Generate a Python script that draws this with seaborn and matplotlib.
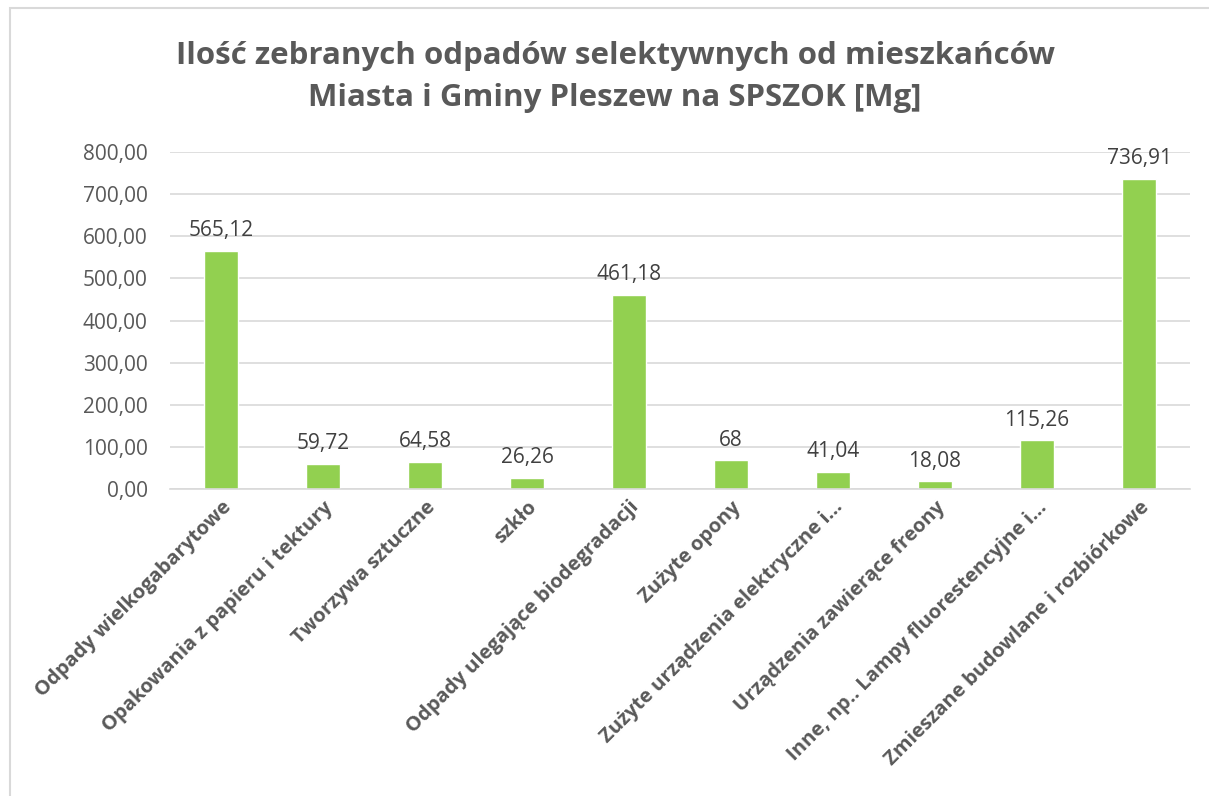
import matplotlib
matplotlib.use("Agg")
import matplotlib.pyplot as plt
import seaborn as sns
import pandas as pd
from matplotlib.patches import Rectangle

categories = [
    "Odpady wielkogabarytowe",
    "Opakowania z papieru i tektury",
    "Tworzywa sztuczne",
    "szkło",
    "Odpady ulegające biodegradacji",
    "Zużyte opony",
    "Zużyte urządzenia elektryczne i...",
    "Urządzenia zawierące freony",
    "Inne, np.. Lampy fluorestencyjne i...",
    "Zmieszane budowlane i rozbiórkowe",
]
values = [565.12, 59.72, 64.58, 26.26, 461.18, 68, 41.04, 18.08, 115.26, 736.91]
value_labels = ["565,12", "59,72", "64,58", "26,26", "461,18", "68", "41,04", "18,08", "115,26", "736,91"]
yticks = [0, 100, 200, 300, 400, 500, 600, 700, 800]
title = "Ilość zebranych odpadów selektywnych od mieszkańców\nMiasta i Gminy Pleszew na SPSZOK [Mg]"

sns.set_theme(style="white")
plt.rcParams['font.family'] = ['Open Sans', 'DejaVu Sans']

df = pd.DataFrame({"cat": categories, "val": values})

fig = plt.figure(figsize=(12.09, 7.96), dpi=100)
ax = fig.add_axes([170/1209, 1 - 489/796, 1020/1209, (489-152)/796])

sns.barplot(data=df, x="cat", y="val", color="#92D050", width=0.33, ax=ax, saturation=1)

ax.set_ylim(0, 800)
ax.set_xlim(-0.5, len(categories) - 0.5)
ax.set_yticks(yticks)
ax.set_yticklabels([f"{v:.2f}".replace(".", ",") for v in yticks], color="#595959", fontsize=15)
ax.tick_params(axis="y", length=0, pad=16)
ax.tick_params(axis="x", length=0, pad=6)
ax.set_xticks(range(len(categories)))
ax.set_xticklabels(categories, rotation=45, ha="right", rotation_mode="anchor",
                   color="#595959", fontsize=14.5, fontweight="bold")
ax.set_xlabel("")
ax.set_ylabel("")
ax.grid(axis="y", color="#D9D9D9", linewidth=1.2)
ax.set_axisbelow(True)
for s in ["top", "right", "left"]:
    ax.spines[s].set_visible(False)
ax.spines["bottom"].set_color("#D9D9D9")
ax.spines["bottom"].set_linewidth(1.2)

for i, (v, lab) in enumerate(zip(values, value_labels)):
    ax.annotate(lab, (i, v), xytext=(0, 7), textcoords="offset points",
                ha="center", va="bottom", fontsize=15, color="#404040")

fig.text(615/1209, 1 - 77/796, title, ha="center", va="center", fontsize=22.5,
         fontweight="bold", color="#595959", linespacing=1.55)

# chart area border
fig.patches.append(Rectangle((10/1209, -0.01), 1.01, 1 - 8/796 + 0.01, transform=fig.transFigure,
                             fill=False, edgecolor="#D9D9D9", linewidth=1.5))

fig.savefig("out.png", dpi=100)
